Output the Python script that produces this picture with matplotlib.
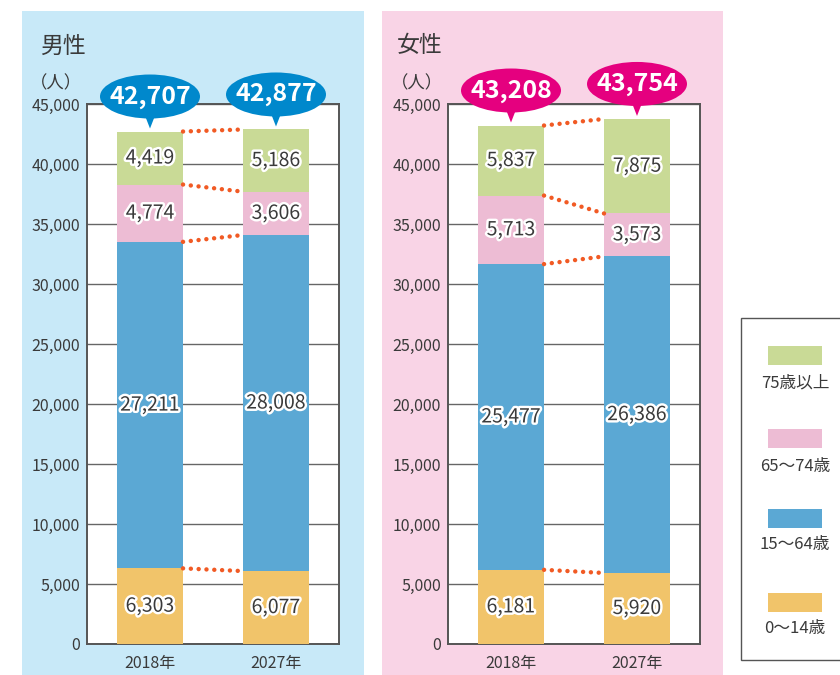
import matplotlib
matplotlib.use("Agg")
import matplotlib.pyplot as plt
import matplotlib.patheffects as pe
from matplotlib.patches import Rectangle, Ellipse, Polygon
import numpy as np

plt.rcParams['font.family'] = ['Noto Sans CJK JP', 'DejaVu Sans']

years = ['2018年', '2027年']
groups = ['0～14歳', '15～64歳', '65～74歳', '75歳以上']
colors = ['#F1C46A', '#5BA8D4', '#EDBCD4', '#C9DA96']

male = [[6303, 6077], [27211, 28008], [4774, 3606], [4419, 5186]]
female = [[6181, 5920], [25477, 26386], [5713, 3573], [5837, 7875]]
male_total = [42707, 42877]
female_total = [43208, 43754]

W, H = 840, 675
fig = plt.figure(figsize=(W / 100, H / 100), dpi=100)


def fx(x):
    return x / W


def fy(y):
    return 1 - y / H


# panel backgrounds
fig.patches.append(Rectangle((fx(22), fy(675)), fx(364) - fx(22), fy(11) - fy(675),
                             transform=fig.transFigure, facecolor='#C8E9F8', edgecolor='none', zorder=-2))
fig.patches.append(Rectangle((fx(382), fy(675)), fx(723) - fx(382), fy(11) - fy(675),
                             transform=fig.transFigure, facecolor='#F9D4E6', edgecolor='none', zorder=-2))

txt = '#3A3A3A'
PX = 2 / 252          # data x per pixel
PY = 45000 / 540      # data y per pixel


def panel(left_px, data, totals, title, title_x, bubble_color):
    ax = fig.add_axes([fx(left_px), fy(644), 252 / W, 540 / H])
    ax.set_zorder(2)
    ax.set_facecolor('white')
    x = np.arange(2)
    bottoms = np.zeros(2)
    tops = []
    for vals, c in zip(data, colors):
        vals = np.array(vals)
        ax.bar(x, vals, width=0.524, bottom=bottoms, color=c, zorder=3)
        for xi, v, b in zip(x, vals, bottoms):
            ax.text(xi, b + v / 2, f'{v:,}', ha='center', va='center', fontsize=14,
                    color=txt, zorder=6,
                    path_effects=[pe.withStroke(linewidth=3.5, foreground='white')])
        bottoms = bottoms + vals
        tops.append(bottoms.copy())

    # dotted connectors between segment tops
    for t in tops:
        ax.plot([0.262, 1 - 0.262], [t[0], t[1]], color='#F15A24', linewidth=3.2,
                linestyle=(0, (0.01, 1.75)), dash_capstyle='round', zorder=4)

    ax.set_xlim(-0.5, 1.5)
    ax.set_ylim(0, 45000)
    ax.set_yticks(np.arange(0, 45001, 5000))
    ax.set_yticklabels([f'{v:,}' for v in range(0, 45001, 5000)])
    ax.set_xticks(x)
    ax.set_xticklabels(years)
    ax.tick_params(axis='both', length=0, labelsize=11.5, colors=txt)
    ax.tick_params(axis='y', pad=5)
    ax.tick_params(axis='x', pad=8)
    ax.grid(axis='y', color='#666666', linewidth=1, zorder=1)
    ax.set_axisbelow(True)
    for s in ax.spines.values():
        s.set_color('#555555')
        s.set_linewidth(1.4)

    # total bubbles
    for xi, t in zip(x, totals):
        cy = t + 35 * PY
        ax.add_patch(Polygon([(xi - 7 * PX, cy - 14 * PY), (xi + 7 * PX, cy - 14 * PY),
                              (xi, t + 3 * PY)], closed=True, facecolor=bubble_color,
                             edgecolor='none', clip_on=False, zorder=7))
        ax.add_patch(Ellipse((xi, cy), 100 * PX, 44 * PY, facecolor=bubble_color,
                             edgecolor='none', clip_on=False, zorder=7))
        ax.text(xi, cy, f'{t:,}', ha='center', va='center', fontsize=18,
                fontweight='bold', color='white', zorder=8)

    fig.text(fx(title_x), fy(46), title, fontsize=16.5, color=txt, ha='left', va='center')
    fig.text(fx(left_px - 5), fy(83), '（人）', fontsize=12.5, color=txt, ha='right', va='center')
    return ax


panel(87, male, male_total, '男性', 40, '#0088CC')
panel(448, female, female_total, '女性', 397, '#E5007F')

# legend box
fig.patches.append(Rectangle((fx(741), fy(660)), fx(860) - fx(741), fy(318) - fy(660),
                             transform=fig.transFigure, facecolor='white', edgecolor='#555555',
                             linewidth=1, zorder=1))
patch_y = [593, 509, 429, 346]
label_y = [628, 545, 466, 383]
for g, c, py, ly in zip(groups, colors, patch_y, label_y):
    fig.patches.append(Rectangle((fx(768), fy(py + 19)), fx(822) - fx(768), fy(py) - fy(py + 19),
                                 transform=fig.transFigure, facecolor=c, edgecolor='none', zorder=2))
    fig.text(fx(795), fy(ly), g, fontsize=12, color=txt, ha='center', va='center')

fig.savefig('out.png', dpi=100)
